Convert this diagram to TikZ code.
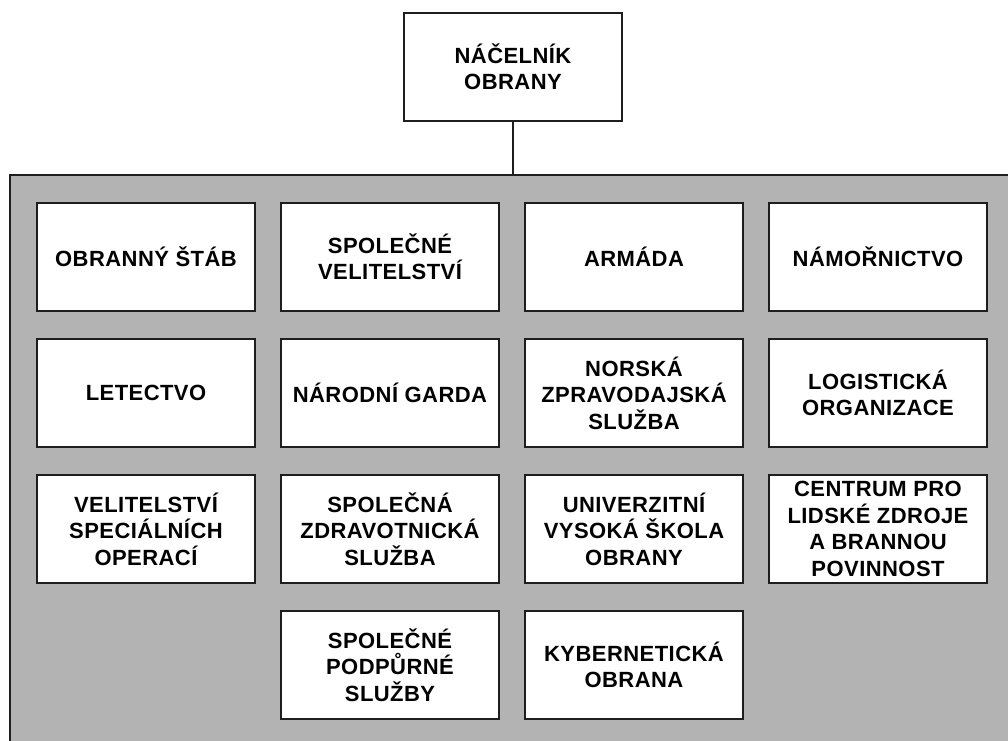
\documentclass[tikz,border=0pt]{standalone}
\usepackage{fontspec}
\setmainfont[LetterSpace=2]{Liberation Sans}
\usetikzlibrary{positioning}

\definecolor{panelgray}{RGB}{179,179,179}
\definecolor{edgegray}{RGB}{30,30,30}

\tikzset{
  unit/.style={draw=edgegray, line width=2pt, fill=white, minimum width=218pt,
    minimum height=108pt, inner sep=0pt, align=center,
    font=\bfseries\fontsize{22}{26.5}\selectfont},
}

\begin{document}
\begin{tikzpicture}[node distance=136pt and 244pt,on grid]
\useasboundingbox (0,0) rectangle (1008pt,740pt);
\clip (0,0) rectangle (1008pt,740pt);
\node[draw=edgegray, line width=2pt, fill=panelgray, minimum width=1010pt, minimum height=575pt, inner sep=0pt] (panel) at (515pt,277.5pt) {};
\node[unit] (chief) at (513pt,673pt) {NÁČELNÍK\\OBRANY};
\node[unit] (stab) at (146pt,483pt) {OBRANNÝ ŠTÁB};
\node[unit] (velitelstvi) [right=of stab] {SPOLEČNÉ\\VELITELSTVÍ};
\node[unit] (armada) [right=of velitelstvi] {ARMÁDA};
\node[unit] (namornictvo) [right=of armada] {NÁMOŘNICTVO};
\node[unit] (letectvo) [below=of stab] {LETECTVO};
\node[unit] (garda) [right=of letectvo] {NÁRODNÍ GARDA};
\node[unit] (zpravodajska) [right=of garda] {NORSKÁ\\ZPRAVODAJSKÁ\\SLUŽBA};
\node[unit] (logistika) [right=of zpravodajska] {LOGISTICKÁ\\ORGANIZACE};
\node[unit] (specialni) [below=of letectvo] {VELITELSTVÍ\\SPECIÁLNÍCH\\OPERACÍ};
\node[unit] (zdravotnicka) [right=of specialni] {SPOLEČNÁ\\ZDRAVOTNICKÁ\\SLUŽBA};
\node[unit] (skola) [right=of zdravotnicka] {UNIVERZITNÍ\\VYSOKÁ ŠKOLA\\OBRANY};
\node[unit] (centrum) [right=of skola] {CENTRUM PRO\\LIDSKÉ ZDROJE\\A BRANNOU\\POVINNOST};
\node[unit] (podpurne) [below=of zdravotnicka] {SPOLEČNÉ\\PODPŮRNÉ\\SLUŽBY};
\node[unit] (kyber) [right=of podpurne] {KYBERNETICKÁ\\OBRANA};
\draw[edgegray, line width=2pt] (chief) -- (chief |- panel.north);
\end{tikzpicture}
\end{document}
